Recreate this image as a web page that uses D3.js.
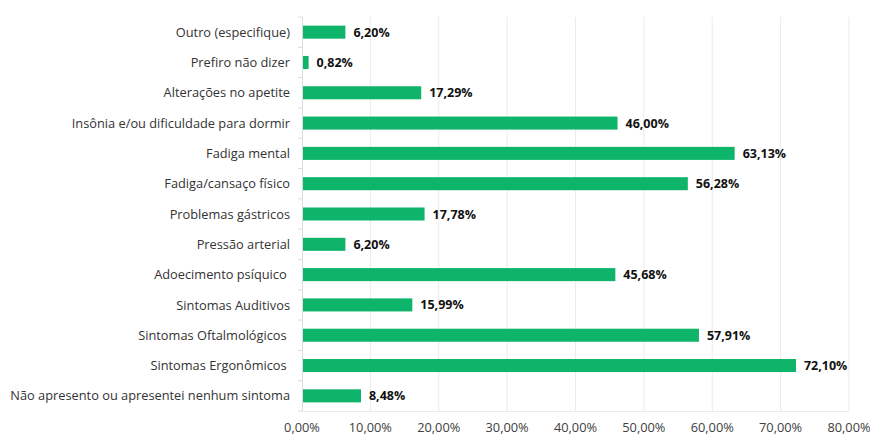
<!DOCTYPE html>
<html>
<head>
<meta charset="utf-8">
<script src="https://cdn.jsdelivr.net/npm/d3@7"></script>
<style>
  body { margin: 0; background: #fff; }
  text { font-family: "Open Sans", "Liberation Sans", sans-serif; }
</style>
</head>
<body>
<svg id="chart"></svg>
<script>
const categories = [
  "Outro (especifique)",
  "Prefiro não dizer",
  "Alterações no apetite",
  "Insônia e/ou dificuldade para dormir",
  "Fadiga mental",
  "Fadiga/cansaço físico",
  "Problemas gástricos",
  "Pressão arterial",
  "Adoecimento psíquico ",
  "Sintomas Auditivos",
  "Sintomas Oftalmológicos ",
  "Sintomas Ergonômicos ",
  "Não apresento ou apresentei nenhum sintoma"
];
const values = [6.20, 0.82, 17.29, 46.00, 63.13, 56.28, 17.78, 6.20, 45.68, 15.99, 57.91, 72.10, 8.48];
const xTicks = [0, 10, 20, 30, 40, 50, 60, 70, 80];

const w = 870, h = 435;
const margin = { top: 17, right: 21, bottom: 24, left: 302 };

const svg = d3.select("#chart").attr("width", w).attr("height", h);

const x = d3.scaleLinear().domain([0, 80]).range([margin.left, w - margin.right]);
const y = d3.scaleBand().domain(categories).range([margin.top, h - margin.bottom]).paddingInner(0.57).paddingOuter(0.285);

const fmt = (v) => v.toFixed(2).replace(".", ",") + "%";

// gridlines
svg.append("g")
  .selectAll("line")
  .data(xTicks.slice(1))
  .join("line")
  .attr("x1", (d) => x(d)).attr("x2", (d) => x(d))
  .attr("y1", margin.top).attr("y2", h - margin.bottom)
  .attr("stroke", "#ebebeb").attr("stroke-width", 1);

// bottom line
svg.append("line")
  .attr("x1", margin.left).attr("x2", x(80))
  .attr("y1", h - margin.bottom + 0.5).attr("y2", h - margin.bottom + 0.5)
  .attr("stroke", "#ebebeb");

// left axis line + category ticks
const step = y.step();
const boundaries = d3.range(categories.length + 1).map((i) => margin.top + i * step);
svg.append("line")
  .attr("x1", margin.left + 0.5).attr("x2", margin.left + 0.5)
  .attr("y1", margin.top).attr("y2", h - margin.bottom)
  .attr("stroke", "#dcdcdc");
svg.append("g")
  .selectAll("line")
  .data(boundaries)
  .join("line")
  .attr("x1", margin.left - 4).attr("x2", margin.left)
  .attr("y1", (d) => d).attr("y2", (d) => d)
  .attr("stroke", "#dcdcdc");

// bars
svg.append("g")
  .selectAll("rect")
  .data(values)
  .join("rect")
  .attr("x", x(0) + 1)
  .attr("y", (d, i) => y(categories[i]))
  .attr("width", (d) => x(d) - x(0))
  .attr("height", y.bandwidth())
  .attr("fill", "#0db46a");

// value labels
svg.append("g")
  .selectAll("text")
  .data(values)
  .join("text")
  .attr("x", (d) => x(d) + 9)
  .attr("y", (d, i) => y(categories[i]) + y.bandwidth() / 2)
  .attr("dy", "0.36em")
  .attr("font-size", 12.5)
  .attr("font-weight", "bold")
  .attr("fill", "#111")
  .text((d) => fmt(d));

// category labels
svg.append("g")
  .selectAll("text")
  .data(categories)
  .join("text")
  .attr("x", margin.left - 12)
  .attr("y", (d) => y(d) + y.bandwidth() / 2)
  .attr("dy", "0.36em")
  .attr("text-anchor", "end")
  .attr("font-size", 12.8)
  .attr("fill", "#333")
  .style("white-space", "pre")
  .text((d) => d);

// x tick labels
svg.append("g")
  .selectAll("text")
  .data(xTicks)
  .join("text")
  .attr("x", (d) => x(d))
  .attr("y", h - 3)
  .attr("text-anchor", "middle")
  .attr("font-size", 12.8)
  .attr("fill", "#404040")
  .text((d) => d.toFixed(2).replace(".", ",") + "%");
</script>
</body>
</html>
